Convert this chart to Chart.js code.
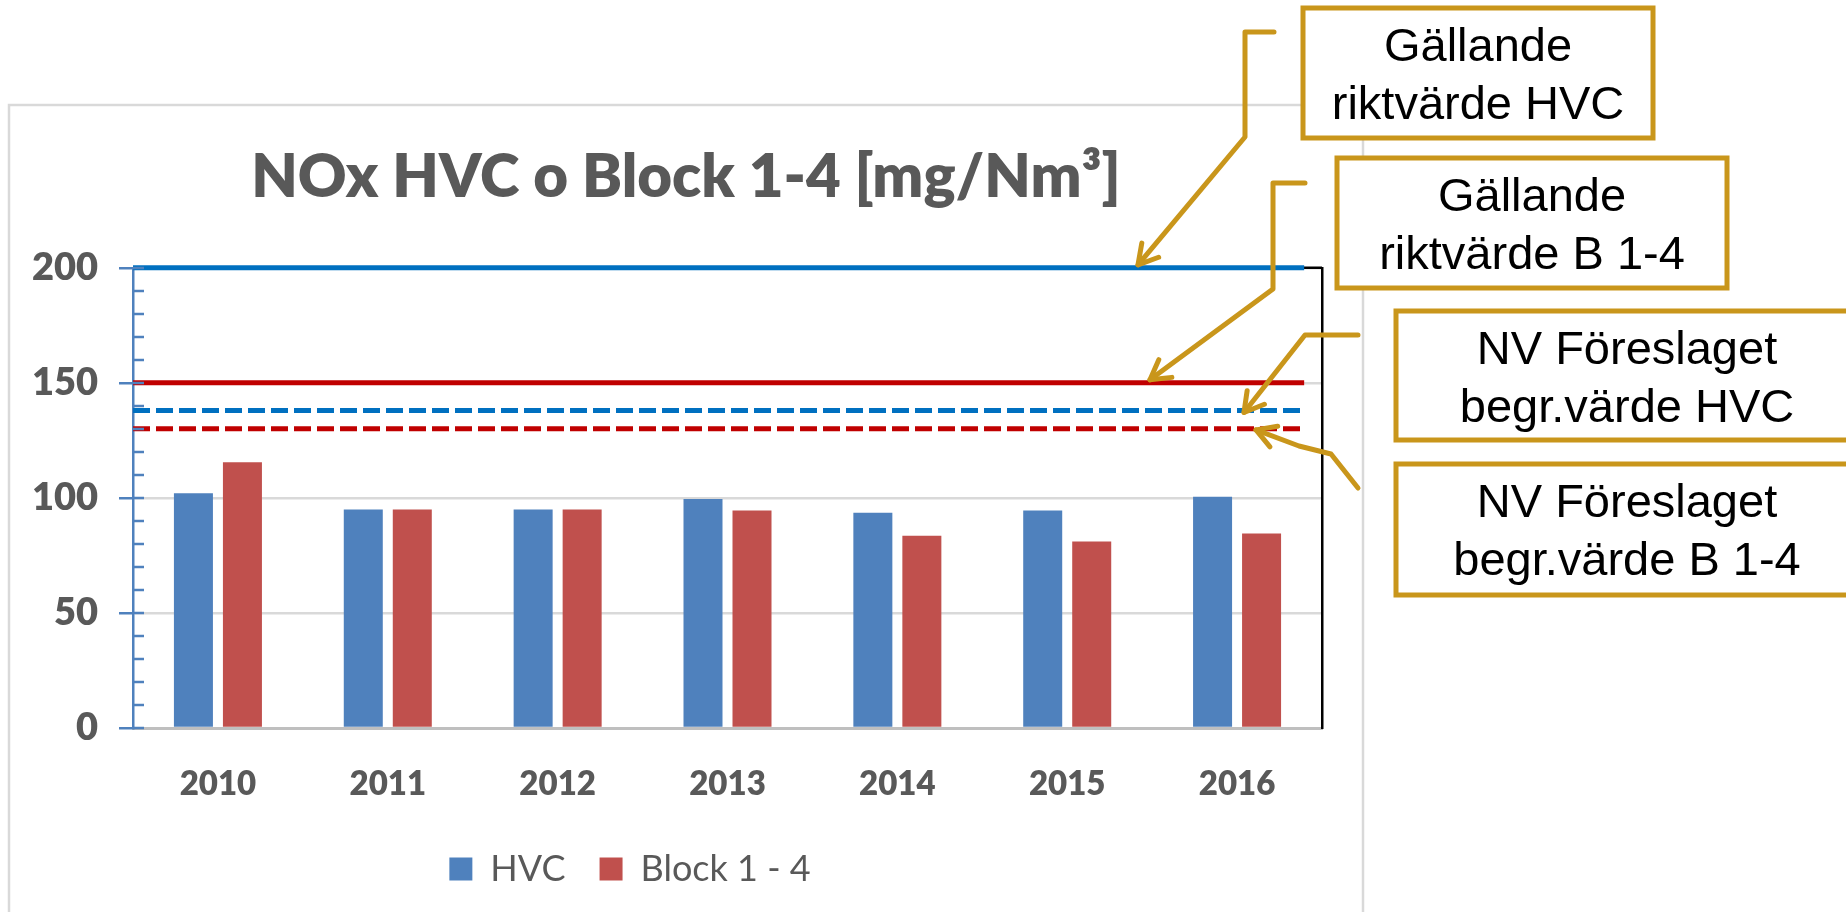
<!DOCTYPE html>
<html>
<head>
<meta charset="utf-8">
<script src="https://cdn.jsdelivr.net/npm/chart.js@4.4.0/dist/chart.umd.min.js"></script>
<style>
  html, body { margin: 0; padding: 0; background: #fff; }
</style>
</head>
<body>
<canvas id="myChart" width="1846" height="912"></canvas>
<script>
// data
var years = ['2010', '2011', '2012', '2013', '2014', '2015', '2016'];
var hvcValues = [102, 95, 95, 99.5, 93.5, 94.5, 100.5];
var blockValues = [115.5, 95, 95, 94.5, 83.5, 81, 84.5];
var limitValues = [200, 150, 138, 130];
var calloutText = [
    ['Gällande', 'riktvärde HVC'],
    ['Gällande', 'riktvärde B 1-4'],
    ['NV Föreslaget', 'begr.värde HVC'],
    ['NV Föreslaget', 'begr.värde B 1-4']
];
var yMax = 200;
var yMajorStep = 50;
var yMinorStep = 10;

var GREY_TEXT = '#595959';
var GOLD = '#C9961B';
var LINE_END = 0.985;

// callout boxes and connector paths (annotation layout, not data)
var callouts = [
    {box: [1303, 8, 350, 130], path: [[1274, 32], [1245, 32], [1245, 137]], tipX: 1138, dy: -3},
    {box: [1337, 158, 390, 130], path: [[1305, 183], [1273, 183], [1273, 289]], tipX: 1150, dy: -3},
    {box: [1396, 311, 462, 129], path: [[1358, 335], [1305, 335]], tipX: 1244, dy: 2},
    {box: [1396, 464, 462, 131], path: [[1358, 488], [1331, 454], [1299, 446]], tipX: 1256, dy: 1}
];

var lineStyles = [
    {color: '#0070C0', dash: []},
    {color: '#C00000', dash: []},
    {color: '#0070C0', dash: [17, 6]},
    {color: '#C00000', dash: [17, 6]}
];

function arrowHead(c, fx, fy, tx, ty) {
    var ang = Math.atan2(ty - fy, tx - fx), len = 22, spread = Math.PI / 6;
    c.beginPath();
    c.moveTo(tx - len * Math.cos(ang - spread), ty - len * Math.sin(ang - spread));
    c.lineTo(tx, ty);
    c.lineTo(tx - len * Math.cos(ang + spread), ty - len * Math.sin(ang + spread));
    c.stroke();
}

var decorations = {
    id: 'decorations',
    beforeDraw: function(chart) {
        var c = chart.ctx;
        c.save();
        c.fillStyle = '#fff';
        c.fillRect(0, 0, chart.width, chart.height);
        c.strokeStyle = '#D9D9D9';
        c.lineWidth = 2.5;
        c.strokeRect(9, 105, 1354, 840);
        c.restore();
    },
    afterLayout: function(chart) {
        // legend sits left of centre in the original
        if (chart.legend) {
            chart.legend.left -= 56;
            chart.legend.right -= 56;
        }
    },
    beforeDatasetsDraw: function(chart) {
        var a = chart.chartArea, c = chart.ctx, ys = chart.scales.y;
        c.save();
        // plot frame top
        c.strokeStyle = '#000';
        c.lineWidth = 2.5;
        c.beginPath();
        c.moveTo(a.left, a.top);
        c.lineTo(a.right, a.top);
        c.stroke();
        // limit lines, placed on the y scale
        var xEnd = a.left + (a.right - a.left) * LINE_END;
        limitValues.forEach(function(v, i) {
            var py = ys.getPixelForValue(v);
            c.strokeStyle = lineStyles[i].color;
            c.lineWidth = 5;
            c.lineCap = 'butt';
            c.setLineDash(lineStyles[i].dash);
            c.beginPath();
            c.moveTo(a.left, py);
            c.lineTo(xEnd, py);
            c.stroke();
        });
        c.setLineDash([]);
        c.restore();
    },
    afterDraw: function(chart) {
        var a = chart.chartArea, c = chart.ctx, ys = chart.scales.y;
        c.save();
        // minor ticks inside the axis
        c.strokeStyle = '#4F81BD';
        c.lineWidth = 2.5;
        for (var v = 0; v <= yMax; v += yMinorStep) {
            var py = Math.round(ys.getPixelForValue(v));
            c.beginPath();
            c.moveTo(a.left, py);
            c.lineTo(a.left + 11, py);
            c.stroke();
        }
        // callouts
        callouts.forEach(function(co, i) {
            var tipY = ys.getPixelForValue(limitValues[i]) + co.dy;
            c.strokeStyle = GOLD;
            c.lineWidth = 5;
            c.lineJoin = 'round';
            c.lineCap = 'round';
            c.beginPath();
            c.moveTo(co.path[0][0], co.path[0][1]);
            for (var k = 1; k < co.path.length; k++) c.lineTo(co.path[k][0], co.path[k][1]);
            c.lineTo(co.tipX, tipY);
            c.stroke();
            var last = co.path[co.path.length - 1];
            arrowHead(c, last[0], last[1], co.tipX, tipY);

            var b = co.box;
            c.lineJoin = 'miter';
            c.lineCap = 'butt';
            c.fillStyle = '#fff';
            c.fillRect(b[0], b[1], b[2], b[3]);
            c.strokeRect(b[0], b[1], b[2], b[3]);
            c.fillStyle = '#000';
            c.font = '47px "Liberation Sans", Arial, sans-serif';
            c.textAlign = 'center';
            c.textBaseline = 'alphabetic';
            c.fillText(calloutText[i][0], b[0] + b[2] / 2, b[1] + 53);
            c.fillText(calloutText[i][1], b[0] + b[2] / 2, b[1] + 111);
        });
        c.restore();
    }
};

var ctx = document.getElementById('myChart').getContext('2d');
var chart = new Chart(ctx, {
    type: 'bar',
    data: {
        labels: years,
        datasets: [{
            label: 'HVC',
            data: hvcValues,
            backgroundColor: '#4F81BD',
            borderWidth: 0
        }, {
            label: 'Block 1 - 4',
            data: blockValues,
            backgroundColor: '#C0504D',
            borderWidth: 0
        }]
    },
    options: {
        responsive: false,
        animation: false,
        categoryPercentage: 0.577,
        barPercentage: 0.796,
        layout: {
            padding: {left: 9, right: 483, top: 142, bottom: 15}
        },
        scales: {
            x: {
                type: 'category',
                grid: {display: false},
                border: {color: '#BFBFBF', width: 3},
                ticks: {
                    font: {family: 'Lato', weight: 800, size: 33},
                    color: GREY_TEXT,
                    padding: 29
                },
                afterFit: function(s) { s.height = 89; }
            },
            y: {
                position: 'left',
                min: 0,
                max: yMax,
                ticks: {
                    stepSize: yMinorStep,
                    autoSkip: false,
                    padding: 21,
                    font: {family: 'Lato', weight: 800, size: 38},
                    color: GREY_TEXT,
                    callback: function(v) { return v % yMajorStep === 0 ? v : ''; }
                },
                grid: {
                    color: function(c) { return c.tick && c.tick.value % yMajorStep === 0 ? '#D9D9D9' : 'rgba(0,0,0,0)'; },
                    lineWidth: 2.5,
                    tickLength: 14,
                    tickWidth: 2.5,
                    tickColor: function(c) { return c.tick && c.tick.value % yMajorStep === 0 ? '#4F81BD' : 'rgba(0,0,0,0)'; }
                },
                border: {color: '#4F81BD', width: 2.5},
                afterFit: function(s) { s.width = 124; }
            },
            y2: {
                position: 'right',
                min: 0,
                max: yMax,
                ticks: {display: false},
                grid: {drawOnChartArea: false, drawTicks: false},
                border: {color: '#000', width: 2.5},
                afterFit: function(s) { s.width = 41; }
            }
        },
        plugins: {
            title: {
                display: true,
                text: 'NOx HVC o Block 1-4 [mg/Nm³]',
                font: {family: 'Lato', weight: 800, size: 60},
                color: GREY_TEXT,
                padding: {top: 0, bottom: 53.8}
            },
            legend: {
                position: 'bottom',
                labels: {
                    boxWidth: 23,
                    boxHeight: 23,
                    padding: 34,
                    font: {family: 'Lato', size: 36},
                    color: GREY_TEXT
                }
            },
            tooltip: {enabled: false}
        }
    },
    plugins: [decorations]
});
</script>
</body>
</html>
